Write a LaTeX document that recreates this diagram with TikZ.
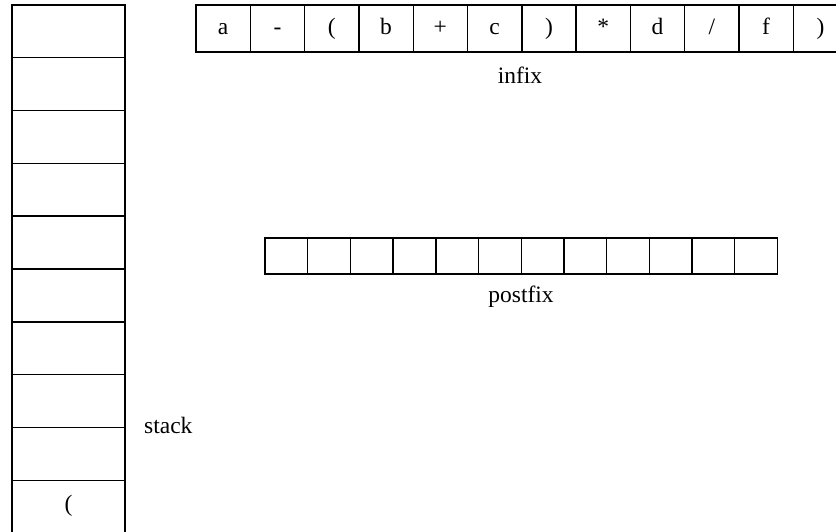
\documentclass[tikz,border=0pt]{standalone}
\usepackage{fontspec}
\setmainfont{Liberation Serif}
\begin{document}
\begin{tikzpicture}[x=1pt,y=-1pt,
  cell/.style={draw,line width=1.4pt,inner sep=0pt,anchor=center},
  scell/.style={cell,minimum width=113pt,minimum height=52.8pt},
  icell/.style={cell,minimum width=54.3pt,minimum height=47pt,text height=16pt,text depth=4pt},
  pcell/.style={cell,minimum width=42.7pt,minimum height=36pt},
  lbl/.style={inner sep=0pt},
  every node/.append style={font=\fontsize{23.5}{26}\selectfont}]
\useasboundingbox (0,0) rectangle (836,532);
% stack
\foreach \i in {0,...,9} {
  \node[scell] (s\i) at (68.5,{5+52.8*(\i+0.5)}) {};
}
\node (sparen) at ([yshift=1pt]s9.center) {(};
\node[lbl,anchor=base west] (stacklbl) at (144,433) {stack};
% infix
\foreach \t [count=\i from 0] in {a,-,{(},b,+,c,{)},*,d,/,f,{)}} {
  \node[icell] (in\i) at ({196+54.3*(\i+0.5)},28.5) {\t};
}
\node[lbl] (infixlbl) at (520,75) {infix};
% postfix
\foreach \i in {0,...,11} {
  \node[pcell] (p\i) at ({265+42.7*(\i+0.5)},256) {};
}
\node[lbl] (postfixlbl) at (521,297) {postfix};
\end{tikzpicture}
\end{document}
